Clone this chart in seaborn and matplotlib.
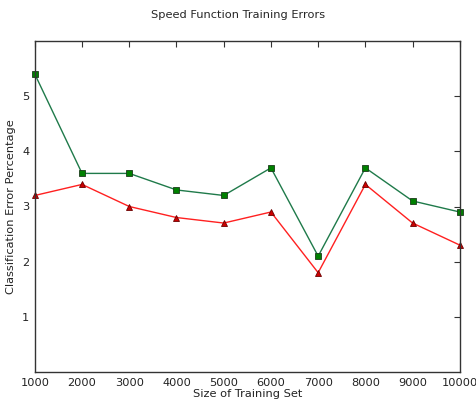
import numpy as np
import pandas as pd
import matplotlib
matplotlib.use('Agg')
import matplotlib.pyplot as plt
import seaborn as sns

# Values
train_size = [1000, 2000, 3000, 4000, 5000, 6000, 7000, 8000, 9000, 10000]
err_green = [5.4, 3.6, 3.6, 3.3, 3.2, 3.7, 2.1, 3.7, 3.1, 2.9]
err_red = [3.2, 3.4, 3.0, 2.8, 2.7, 2.9, 1.8, 3.4, 2.7, 2.3]

sns.set_style('white')
plt.rcParams['font.family'] = ['DejaVu Sans']

fig = plt.figure(figsize=(4.77, 4.0), dpi=100)
ax = fig.add_axes([0.073, 0.07, 0.891, 0.8275])

df = pd.DataFrame({'size': train_size, 'green': err_green, 'red': err_red})

sns.lineplot(data=df, x='size', y='green', ax=ax, color='#1f7a4a', lw=1.0,
             marker='s', markersize=5, markerfacecolor='#008000',
             markeredgecolor='#1a3a1a', markeredgewidth=0.6, clip_on=False)
sns.lineplot(data=df, x='size', y='red', ax=ax, color='#ff2020', lw=1.0,
             marker='^', markersize=5, markerfacecolor='#cc0000',
             markeredgecolor='#6a0000', markeredgewidth=0.6, clip_on=False)

ax.set_xlim(1000, 10000)
ax.set_ylim(0, 6)
ax.set_xticks(train_size)
ax.set_yticks([1, 2, 3, 4, 5])
ax.tick_params(direction='in', length=4, width=0.8, top=True, right=True,
               labelsize=8.2, colors='#333333', labelcolor='#222222', pad=4)
for s in ax.spines.values():
    s.set_color('#333333')
    s.set_linewidth(1.0)

ax.set_xlabel('Size of Training Set', fontsize=8.2, labelpad=1, color='#222222')
ax.set_ylabel('Classification Error Percentage', fontsize=8.2, labelpad=4, color='#222222')
fig.suptitle('Speed Function Training Errors', fontsize=8.2, y=0.975)

fig.savefig('out.png', dpi=100)
